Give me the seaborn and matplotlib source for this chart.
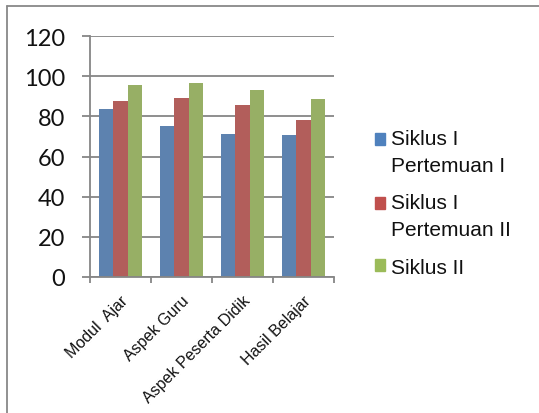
import matplotlib
matplotlib.use("Agg")
import matplotlib.pyplot as plt
import seaborn as sns
import pandas as pd
from matplotlib.patches import Rectangle
from matplotlib.legend_handler import HandlerPatch
from matplotlib.lines import Line2D

categories = ["Modul  Ajar", "Aspek Guru", "Aspek Peserta Didik", "Hasil Belajar"]
series_names = ["Siklus I\nPertemuan I", "Siklus I\nPertemuan II", "Siklus II"]
siklus1_p1 = [83.5, 75.2, 71.4, 70.7]
siklus1_p2 = [87.5, 89.1, 85.7, 78.3]
siklus2 = [95.8, 96.4, 93.1, 88.5]
y_ticks = [0, 20, 40, 60, 80, 100, 120]
colors = ["#4F81BD", "#C0504D", "#9BBB59"]

rows = []
for name, vals in zip(series_names, [siklus1_p1, siklus1_p2, siklus2]):
    for c, v in zip(categories, vals):
        rows.append({"Kategori": c, "Seri": name, "Nilai": v})
df = pd.DataFrame(rows)

sns.set_style("white")
plt.rcParams["font.family"] = ["Liberation Sans", "DejaVu Sans"]

fig = plt.figure(figsize=(5.39, 4.14), dpi=100)
ax = fig.add_axes([90/539, 1-278/414, (334-90)/539, (278-37)/414])

sns.barplot(data=df, x="Kategori", y="Nilai", hue="Seri", order=categories,
            hue_order=series_names, palette=colors, width=0.69, gap=0,
            edgecolor="none", linewidth=0, ax=ax, errorbar=None)

grid_c = "#868686"
ax.set_ylim(0, 120)
ax.set_xlim(-0.5, len(categories) - 0.5)
ax.set_yticks(y_ticks)
ax.set_yticklabels([str(t) for t in y_ticks], fontfamily="Lato", fontsize=17, color="#111111")
ax.yaxis.grid(True, color=grid_c, linewidth=1.3)
ax.set_axisbelow(True)
ax.set_xlabel("")
ax.set_ylabel("")
for s in ["top", "right"]:
    ax.spines[s].set_visible(False)
for s in ["left", "bottom"]:
    ax.spines[s].set_color(grid_c)
    ax.spines[s].set_linewidth(1.3)
ax.tick_params(axis="y", direction="out", length=6, width=1.3, color=grid_c, pad=12, left=True)
ax.set_xticks(range(len(categories)))
ax.set_xticklabels(categories, rotation=45, ha="right", rotation_mode="anchor", fontsize=11.5, color="#111111")
ax.tick_params(axis="x", length=0, pad=11)
ax.set_xticks([i - 0.5 for i in range(len(categories) + 1)], minor=True)
ax.tick_params(axis="x", which="minor", direction="out", length=4, width=1.3, color=grid_c, bottom=True)

# legend
handles = [Rectangle((0, 0), 1, 1, color=c) for c in colors]

def make_handler(offset):
    def f(legend, orig_handle, xdescent, ydescent, width, height, fontsize):
        return Rectangle((-xdescent, -ydescent + offset), width, height)
    return HandlerPatch(patch_func=f)

hmap = {handles[0]: make_handler(9.4), handles[1]: make_handler(9.4), handles[2]: make_handler(0)}
leg = ax.legend(handles, series_names, handler_map=hmap, loc="upper left",
                bbox_to_anchor=(375/539, 1-130/414), bbox_transform=fig.transFigure,
                frameon=False, fontsize=15, handlelength=0.48, handleheight=0.48,
                handletextpad=0.3, labelspacing=0.9, borderpad=0, borderaxespad=0)
for t in leg.get_texts():
    t.set_linespacing(1.5)
    t.set_color("#111111")

# chart frame lines
fig.add_artist(Line2D([7/539, 7/539], [0, 1-7/414], transform=fig.transFigure, color="#888888", lw=1.3))
fig.add_artist(Line2D([7/539, 1], [1-7/414, 1-7/414], transform=fig.transFigure, color="#888888", lw=1.3))

fig.savefig("out.png", dpi=100)
